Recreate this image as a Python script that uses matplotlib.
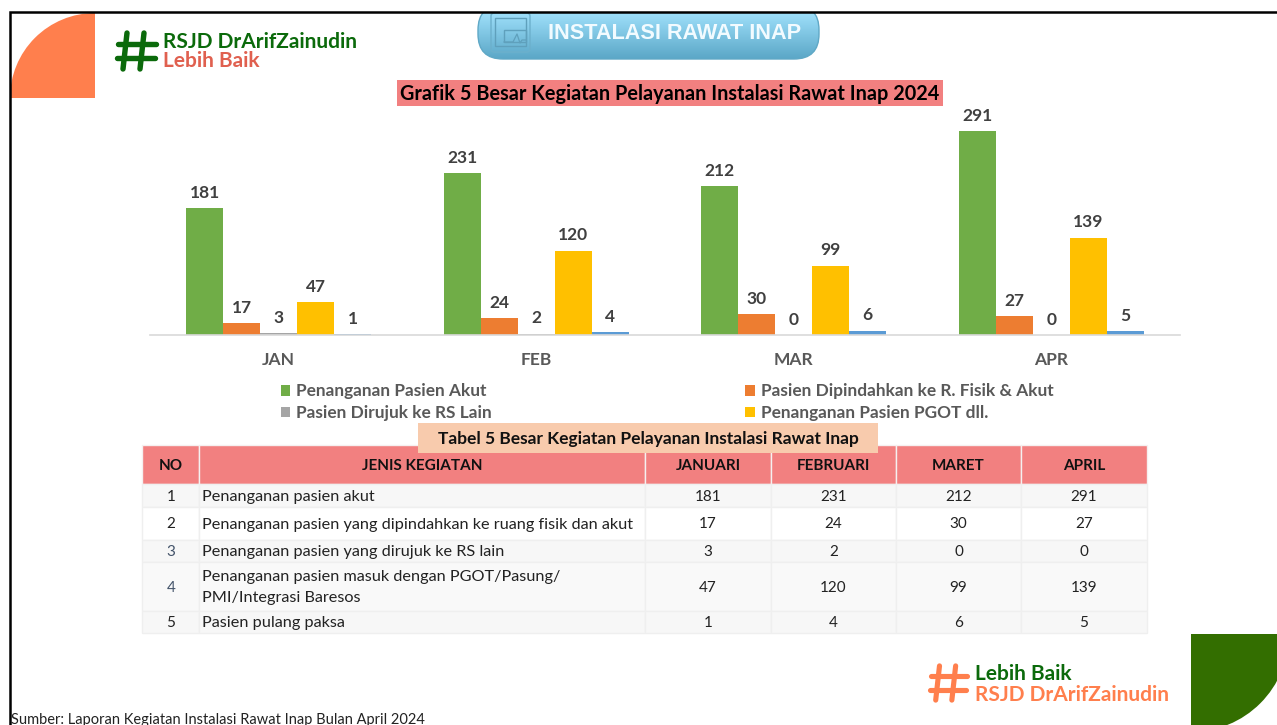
import numpy as np
import matplotlib
matplotlib.use("Agg")
import matplotlib.pyplot as plt
from matplotlib.colors import LinearSegmentedColormap
from matplotlib.patches import Rectangle, Wedge, FancyBboxPatch

months = ["JAN", "FEB", "MAR", "APR"]
akut = [181, 231, 212, 291]
pindah = [17, 24, 30, 27]
rujuk = [3, 2, 0, 0]
pgot = [47, 120, 99, 139]
pulang = [1, 4, 6, 5]

series_names = ["Penanganan Pasien Akut", "Pasien Dipindahkan ke R. Fisik & Akut",
                "Pasien Dirujuk ke RS Lain", "Penanganan Pasien PGOT dll.", "Pasien Pulang Paksa"]
series_colors = ["#70AD47", "#ED7D31", "#A5A5A5", "#FFC000", "#5B9BD5"]

table_header = ["NO", "JENIS KEGIATAN", "JANUARI", "FEBRUARI", "MARET", "APRIL"]
table_no = ["1", "2", "3", "4", "5"]
table_no_colors = ["#222222", "#222222", "#44546A", "#44546A", "#222222"]
table_jenis = ["Penanganan pasien akut",
               "Penanganan pasien yang dipindahkan ke ruang fisik dan akut",
               "Penanganan pasien yang dirujuk ke RS lain",
               "Penanganan pasien masuk dengan PGOT/Pasung/\nPMI/Integrasi Baresos",
               "Pasien pulang paksa"]

W, H = 1277, 725
fig = plt.figure(figsize=(W / 100, H / 100), dpi=100, facecolor="white")

# overlay in pixel coordinates for the slide decoration and the table
bg = fig.add_axes([0, 0, 1, 1])
bg.set_xlim(0, W)
bg.set_ylim(H, 0)
bg.axis("off")

# corner shapes
bg.add_patch(Wedge((95, 98), 85, 180, 270, fc="#FF7F4D", ec="none"))
bg.add_patch(Wedge((1191, 634), 98, 0, 90, fc="#336E00", ec="none"))


def hash_logo(x, y, s, color):
    lw = 3.9 * s
    kw = dict(color=color, lw=lw, solid_capstyle="round")
    bg.plot([x + 10 * s, x + 6 * s], [y + 2 * s, y + 38 * s], **kw)
    bg.plot([x + 27 * s, x + 23 * s], [y + 2 * s, y + 38 * s], **kw)
    bg.plot([x + 1 * s, x + 39 * s], [y + 13 * s, y + 13 * s], **kw)
    bg.plot([x + 0 * s, x + 38 * s], [y + 27 * s, y + 27 * s], **kw)


hash_logo(117, 31, 1.0, "#0B6A0B")
bg.text(163, 42, "RSJD DrArifZainudin", color="#0B6A0B", fontsize=15, fontweight="bold",
        family="Lato", va="center")
bg.text(163, 60.5, "Lebih Baik", color="#E0604F", fontsize=15, fontweight="bold",
        family="Lato", va="center")

hash_logo(930, 664, 0.95, "#FF7F4D")
bg.text(975, 674, "Lebih Baik", color="#0B6A0B", fontsize=15, fontweight="bold",
        family="Lato", va="center")
bg.text(975, 695, "RSJD DrArifZainudin", color="#FF7F4D", fontsize=15, fontweight="bold",
        family="Lato", va="center")

# header button with vertical gradient, its top is cut off by the frame
pill = FancyBboxPatch((478 + 25, 5 + 25), 341 - 50, 54 - 50, boxstyle="round,pad=25",
                      fc="none", ec="#5FA8C6", lw=1, zorder=2)
bg.add_patch(pill)
grad = np.linspace(0, 1, 64).reshape(-1, 1)
img = bg.imshow(grad, extent=(478, 819, 59, 12), aspect="auto", zorder=1,
                cmap=LinearSegmentedColormap.from_list("b", ["#9FE0FB", "#5BA7C7"]))
img.set_clip_path(pill)
bg.set_xlim(0, W)
bg.set_ylim(H, 0)
bg.add_patch(Rectangle((470, 0), 360, 12, fc="white", ec="none", zorder=3))
bg.add_patch(FancyBboxPatch((494, 16), 33, 33, boxstyle="round,pad=3", fc="none", ec="#6CB0CC", lw=1, zorder=2))
bg.add_patch(Rectangle((495, 18), 31, 28, fc="none", ec="#5FA0BC", lw=1, zorder=2))
bg.add_patch(Rectangle((504, 30), 22, 12, fc="none", ec="#5FA0BC", lw=1, zorder=2))
bg.plot([504, 513, 515, 517, 520, 522, 526], [42, 42, 38, 34, 43, 40, 40], color="#5FA0BC", lw=0.9, zorder=2)
bg.text(674.5, 33, "INSTALASI RAWAT INAP", color="#F2FBFF", fontsize=15.6, fontweight="bold",
        family="Liberation Sans", ha="center", va="center", zorder=3)

# slide frame
bg.plot([9.5, 9.5, W], [H, 12, 12], color="black", lw=1.8, zorder=5, solid_joinstyle="miter")

# chart title
bg.add_patch(Rectangle((397, 80), 546, 26, fc="#F28080", ec="none"))
bg.text(670, 93.5, "Grafik 5 Besar Kegiatan Pelayanan Instalasi Rawat Inap 2024", color="black",
        fontsize=14.3, fontweight="bold", family="Lato", ha="center", va="center")

# bar chart
ax = fig.add_axes([150 / W, 1 - 335 / H, 1030 / W, 210 / H], facecolor="none")
x = np.arange(len(months))
bw = 37 / 257.5
for i, vals in enumerate([akut, pindah, rujuk, pgot, pulang]):
    bars = ax.bar(x + (i - 2) * bw, vals, bw, color=series_colors[i], label=series_names[i])
    ax.bar_label(bars, padding=5.3, fontsize=12.5, fontweight="bold", color="#404040", family="Lato")
ax.set_xlim(-0.5, 3.5)
ax.set_ylim(0, 299.5)
ax.set_yticks([])
ax.set_xticks(x)
ax.set_xticklabels(months, fontsize=12.5, fontweight="bold", color="#595959", family="Lato")
ax.tick_params(axis="x", length=0, pad=12.5)
for s in ["top", "left", "right"]:
    ax.spines[s].set_visible(False)
ax.spines["bottom"].set_color("#D9D9D9")
ax.spines["bottom"].set_linewidth(1.2)

# legend: the fifth series is cut off in the slide
handles, labels = ax.get_legend_handles_labels()
order = [0, 2, 1, 3]
ax.legend([handles[i] for i in order], [labels[i] for i in order], ncols=2, frameon=False,
          loc="upper left", bbox_to_anchor=(265 / W, 1 - 368 / H), bbox_transform=fig.transFigure,
          prop=dict(family="Lato", weight="bold", size=12.4), labelcolor="#595959",
          handlelength=0.58, handleheight=0.58, handletextpad=0.3, columnspacing=14.75,
          labelspacing=0.33)

# table
col_x = [142, 199, 645, 771, 896, 1021, 1147]
row_y = [445, 484, 507, 540, 562, 611, 633]
row_fill = ["#F7F7F7", "#FFFFFF", "#F7F7F7", "#F9F9F9", "#F7F7F7"]
table_values = [akut, pindah, rujuk, pgot, pulang]
for c, head in enumerate(table_header):
    bg.add_patch(Rectangle((col_x[c], row_y[0]), col_x[c + 1] - col_x[c], row_y[1] - row_y[0],
                           fc="#F28080", ec="#F5F0F0", lw=1))
    bg.text((col_x[c] + col_x[c + 1]) / 2, (row_y[0] + row_y[1]) / 2 + 1.5, head, fontsize=11,
            fontweight="bold", family="Lato", color="#111111", ha="center", va="center")
for r in range(5):
    top, bot = row_y[r + 1], row_y[r + 2]
    mid = (top + bot) / 2
    for c in range(6):
        bg.add_patch(Rectangle((col_x[c], top), col_x[c + 1] - col_x[c], bot - top,
                               fc=row_fill[r], ec="#EFEFEF", lw=1))
    bg.text(171, mid + 1, table_no[r], fontsize=11, family="Lato", color=table_no_colors[r],
            ha="center", va="center")
    bg.text(201.5, mid + 1, table_jenis[r], fontsize=11.7, family="Lato", color="#222222",
            ha="left", va="center", linespacing=1.55)
    for c in range(4):
        bg.text((col_x[c + 2] + col_x[c + 3]) / 2, mid + 1, str(table_values[r][c]), fontsize=11,
                family="Lato", color="#222222", ha="center", va="center")

bg.add_patch(Rectangle((418, 423), 460, 30, fc="#F8CBAD", ec="none", zorder=4))
bg.text(648, 438.5, "Tabel 5 Besar Kegiatan Pelayanan Instalasi Rawat Inap", color="#111111",
        fontsize=12.5, fontweight="bold", family="Lato", ha="center", va="center", zorder=5)

# source note, runs off the bottom edge of the slide
bg.text(11, 720, "Sumber: Laporan Kegiatan Instalasi Rawat Inap Bulan April 2024", color="#222222",
        fontsize=10.55, family="Lato", ha="left", va="center", clip_on=True)

fig.savefig("out.png", dpi=100)
